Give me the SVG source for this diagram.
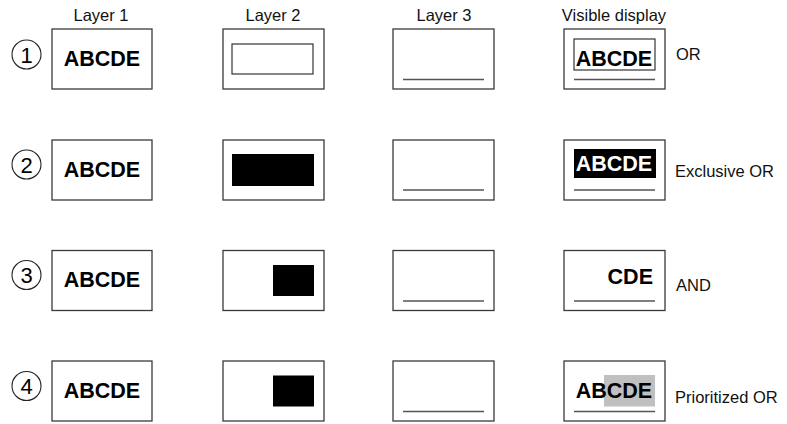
<svg xmlns="http://www.w3.org/2000/svg" width="787" height="424" viewBox="0 0 787 424">
<style>
.box{fill:#fff;stroke:#3a3a3a;stroke-width:1.3}
.ln{stroke:#555;stroke-width:1.4}
.hd{font-family:"Liberation Sans",Arial,sans-serif;font-size:16.5px;fill:#111;text-anchor:middle}
.op{font-family:"Liberation Sans",Arial,sans-serif;font-size:16.5px;fill:#111}
.big{font-family:"Liberation Sans",Arial,sans-serif;font-size:21.5px;font-weight:bold;fill:#000}
.num{font-family:"Liberation Sans",Arial,sans-serif;font-size:22px;fill:#000;text-anchor:middle}
.circ{fill:none;stroke:#222;stroke-width:1.1}
</style>
<g id="headers">
<text class="hd" x="101" y="21">Layer 1</text>
<text class="hd" x="273" y="21">Layer 2</text>
<text class="hd" x="444" y="21">Layer 3</text>
<text class="hd" x="614" y="21">Visible display</text>
</g>
<g id="row1">
<g id="n1"><circle class="circ" cx="26.5" cy="54.5" r="14.5"/><text class="num" x="26.5" y="62.5">1</text></g>
<g id="r1l1"><rect class="box" x="52" y="29" width="100" height="60"/><text class="big" x="102" y="65.5" text-anchor="middle">ABCDE</text></g>
<g id="r1l2"><rect class="box" x="223" y="29" width="101" height="60"/><rect x="232" y="44" width="81" height="30" fill="#fff" stroke="#222" stroke-width="1.1"/></g>
<g id="r1l3"><rect class="box" x="393" y="29" width="101" height="60"/><line class="ln" x1="403" y1="79.5" x2="484" y2="79.5"/></g>
<g id="r1v"><rect class="box" x="564" y="29" width="101" height="60"/><rect x="574" y="39" width="81" height="31" fill="#fff" stroke="#222" stroke-width="1.1"/><text class="big" x="614" y="65.5" text-anchor="middle">ABCDE</text><line class="ln" x1="574" y1="79.5" x2="655" y2="79.5"/></g>
<text class="op" x="676" y="60">OR</text>
</g>
<g id="row2">
<g id="n2"><circle class="circ" cx="26.5" cy="164.5" r="14.5"/><text class="num" x="26.5" y="172.5">2</text></g>
<g id="r2l1"><rect class="box" x="52" y="140" width="100" height="60"/><text class="big" x="102" y="176.5" text-anchor="middle">ABCDE</text></g>
<g id="r2l2"><rect class="box" x="223" y="140" width="101" height="60"/><rect x="232" y="154" width="82" height="32" fill="#000"/></g>
<g id="r2l3"><rect class="box" x="393" y="140" width="101" height="60"/><line class="ln" x1="403" y1="190" x2="484" y2="190"/></g>
<g id="r2v"><rect class="box" x="564" y="140" width="101" height="60"/><rect x="574" y="149" width="82" height="29" fill="#000"/><text class="big" x="614" y="171" text-anchor="middle" style="fill:#fff">ABCDE</text><line class="ln" x1="574" y1="190" x2="655" y2="190"/></g>
<text class="op" x="675" y="176.5">Exclusive OR</text>
</g>
<g id="row3">
<g id="n3"><circle class="circ" cx="26.5" cy="275" r="14.5"/><text class="num" x="26.5" y="283">3</text></g>
<g id="r3l1"><rect class="box" x="52" y="250.5" width="100" height="60"/><text class="big" x="102" y="287" text-anchor="middle">ABCDE</text></g>
<g id="r3l2"><rect class="box" x="223" y="250.5" width="101" height="60"/><rect x="273" y="265" width="41" height="31" fill="#000"/></g>
<g id="r3l3"><rect class="box" x="393" y="250.5" width="101" height="60"/><line class="ln" x1="403" y1="301" x2="484" y2="301"/></g>
<g id="r3v"><rect class="box" x="564" y="250.5" width="101" height="60"/><text class="big" x="653" y="284" text-anchor="end">CDE</text><line class="ln" x1="574" y1="301" x2="655" y2="301"/></g>
<text class="op" x="676" y="290.5">AND</text>
</g>
<g id="row4">
<g id="n4"><circle class="circ" cx="26.5" cy="386" r="14.5"/><text class="num" x="26.5" y="394">4</text></g>
<g id="r4l1"><rect class="box" x="52" y="361" width="100" height="60"/><text class="big" x="102" y="398" text-anchor="middle">ABCDE</text></g>
<g id="r4l2"><rect class="box" x="223" y="361" width="101" height="60"/><rect x="273" y="375.5" width="41" height="31" fill="#000"/></g>
<g id="r4l3"><rect class="box" x="393" y="361" width="101" height="60"/><line class="ln" x1="403" y1="411.5" x2="484" y2="411.5"/></g>
<g id="r4v"><rect class="box" x="564" y="361" width="101" height="60"/><rect x="604" y="375" width="51" height="31.5" fill="#c0c0c0"/><text class="big" x="614" y="398" text-anchor="middle">ABCDE</text><line class="ln" x1="574" y1="411.5" x2="655" y2="411.5"/></g>
<text class="op" x="675" y="402.5">Prioritized OR</text>
</g>
<g id="connectors"/>
</svg>
